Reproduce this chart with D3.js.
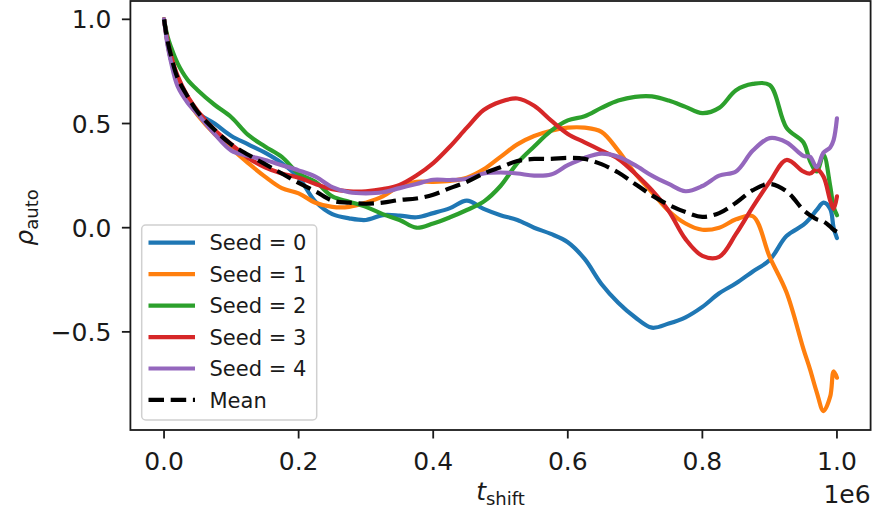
<!DOCTYPE html>
<html>
<head>
<meta charset="utf-8">
<script src="https://cdn.jsdelivr.net/npm/d3@7"></script>
<style>
  html, body { margin: 0; padding: 0; background: #fff; }
  svg { display: block; font-family: "DejaVu Sans", sans-serif; }
</style>
</head>
<body>
<svg id="chart" width="875" height="515"></svg>
<script>
// Time shift, in units of 1e6 steps
const shifts = [0, 0.005, 0.01, 0.02, 0.035, 0.05, 0.075, 0.1, 0.125, 0.15, 0.175, 0.2,
  0.225, 0.25, 0.275, 0.3, 0.325, 0.35, 0.375, 0.4, 0.425, 0.45, 0.475, 0.5, 0.525, 0.55,
  0.575, 0.6, 0.625, 0.65, 0.675, 0.7, 0.725, 0.75, 0.775, 0.8, 0.825, 0.85, 0.875, 0.9,
  0.925, 0.95, 0.96, 0.97, 0.98, 0.99, 0.995, 1.0];

// Autocorrelation per seed
const seed0 = [1.0, 0.89, 0.81, 0.71, 0.61, 0.55, 0.50, 0.44, 0.40, 0.36, 0.31, 0.24,
  0.125, 0.065, 0.045, 0.037, 0.06, 0.058, 0.05, 0.07, 0.094, 0.13, 0.09, 0.06, 0.037, 0.0,
  -0.03, -0.07, -0.15, -0.27, -0.36, -0.43, -0.48, -0.46, -0.43, -0.38, -0.315, -0.267,
  -0.21, -0.155, -0.04, 0.013, 0.045, 0.085, 0.12, 0.09, 0.0, -0.05];
const seed1 = [1.0, 0.89, 0.81, 0.71, 0.61, 0.54, 0.45, 0.38, 0.31, 0.245, 0.19, 0.165,
  0.12, 0.10, 0.10, 0.12, 0.15, 0.20, 0.22, 0.22, 0.225, 0.24, 0.28, 0.34, 0.40, 0.44,
  0.465, 0.48, 0.48, 0.46, 0.37, 0.26, 0.17, 0.08, 0.02, -0.01, 0.0, 0.04, 0.055, -0.14,
  -0.31, -0.58, -0.68, -0.79, -0.88, -0.81, -0.69, -0.72];
const seed2 = [1.0, 0.92, 0.87, 0.79, 0.71, 0.66, 0.59, 0.53, 0.445, 0.39, 0.34, 0.26,
  0.22, 0.15, 0.125, 0.10, 0.065, 0.037, 0.0, 0.02, 0.05, 0.085, 0.125, 0.20, 0.31, 0.39,
  0.465, 0.515, 0.535, 0.575, 0.61, 0.628, 0.63, 0.61, 0.58, 0.55, 0.575, 0.66, 0.69, 0.685,
  0.48, 0.41, 0.32, 0.27, 0.35, 0.2, 0.1, 0.06];
const seed3 = [1.0, 0.90, 0.83, 0.73, 0.63, 0.56, 0.47, 0.40, 0.335, 0.29, 0.26, 0.24,
  0.21, 0.185, 0.175, 0.175, 0.185, 0.205, 0.25, 0.31, 0.39, 0.48, 0.565, 0.605, 0.62,
  0.585, 0.515, 0.45, 0.41, 0.37, 0.33, 0.26, 0.18, 0.08, -0.055, -0.135, -0.14, -0.03,
  0.1, 0.22, 0.325, 0.27, 0.26, 0.28, 0.245, 0.13, 0.09, 0.15];
const seed4 = [1.0, 0.88, 0.80, 0.68, 0.60, 0.545, 0.45, 0.37, 0.345, 0.325, 0.30, 0.275,
  0.245, 0.195, 0.17, 0.165, 0.17, 0.19, 0.21, 0.23, 0.229, 0.235, 0.26, 0.265, 0.26, 0.25,
  0.255, 0.30, 0.335, 0.355, 0.34, 0.30, 0.25, 0.21, 0.175, 0.2, 0.25, 0.27, 0.37, 0.43,
  0.41, 0.345, 0.34, 0.29, 0.36, 0.385, 0.42, 0.525];
const meanSeries = [1.0, 0.90, 0.83, 0.72, 0.63, 0.555, 0.47, 0.40, 0.35, 0.305, 0.26, 0.215,
  0.175, 0.13, 0.12, 0.115, 0.12, 0.133, 0.14, 0.158, 0.19, 0.22, 0.26, 0.29, 0.32, 0.33,
  0.33, 0.335, 0.33, 0.305, 0.265, 0.21, 0.155, 0.11, 0.075, 0.052, 0.07, 0.12, 0.18, 0.21,
  0.175, 0.085, 0.06, 0.04, 0.03, 0.005, -0.01, -0.02];

const seriesNames = ["Seed = 0", "Seed = 1", "Seed = 2", "Seed = 3", "Seed = 4", "Mean"];
const seriesColors = ["#1f77b4", "#ff7f0e", "#2ca02c", "#d62728", "#9467bd", "#000000"];

const xTicks = [0, 0.2, 0.4, 0.6, 0.8, 1.0];
const xTickLabels = ["0.0", "0.2", "0.4", "0.6", "0.8", "1.0"];
const yTicks = [-0.5, 0, 0.5, 1.0];
const yTickLabels = ["\u22120.5", "0.0", "0.5", "1.0"];
const xOffsetLabel = "1e6";

const allSeries = [seed0, seed1, seed2, seed3, seed4, meanSeries];

// Plot area
const plotLeft = 130.4, plotRight = 870.6, plotTop = 1, plotBottom = 430;
const x = d3.scaleLinear().domain([-0.05, 1.05]).range([plotLeft, plotRight]);
const y = d3.scaleLinear().domain([-0.971, 1.088]).range([plotBottom, plotTop]);

const svg = d3.select("#chart");
const ink = "#1a1a1a";
const tickFont = 25;
const lineWidth = 4.2;
const dashPattern = "15.5,6.7";

svg.append("defs").append("clipPath").attr("id", "plot-clip")
  .append("rect").attr("x", plotLeft).attr("y", plotTop)
  .attr("width", plotRight - plotLeft).attr("height", plotBottom - plotTop);

// Series lines
const line = d3.line()
  .x((d, i) => x(shifts[i]))
  .y(d => y(d))
  .curve(d3.curveCatmullRom.alpha(0.5));

const plot = svg.append("g").attr("clip-path", "url(#plot-clip)");
allSeries.forEach((vals, k) => {
  plot.append("path")
    .attr("d", line(vals))
    .attr("fill", "none")
    .attr("stroke", seriesColors[k])
    .attr("stroke-width", lineWidth)
    .attr("stroke-linejoin", "round")
    .attr("stroke-linecap", k === 5 ? "butt" : "round")
    .attr("stroke-dasharray", k === 5 ? dashPattern : null);
});

// Frame
svg.append("rect")
  .attr("x", plotLeft).attr("y", plotTop)
  .attr("width", plotRight - plotLeft).attr("height", plotBottom - plotTop)
  .attr("fill", "none").attr("stroke", ink).attr("stroke-width", 1.8);

// X axis ticks
const xAxis = svg.append("g");
xTicks.forEach((t, i) => {
  xAxis.append("line")
    .attr("x1", x(t)).attr("x2", x(t))
    .attr("y1", plotBottom).attr("y2", plotBottom + 8.5)
    .attr("stroke", ink).attr("stroke-width", 1.8);
  xAxis.append("text")
    .attr("x", x(t)).attr("y", plotBottom + 40)
    .attr("text-anchor", "middle")
    .attr("font-size", tickFont).attr("fill", ink)
    .text(xTickLabels[i]);
});
xAxis.append("text")
  .attr("x", plotRight).attr("y", 503)
  .attr("text-anchor", "end")
  .attr("font-size", tickFont).attr("fill", ink)
  .text(xOffsetLabel);

// Y axis ticks
const yAxis = svg.append("g");
yTicks.forEach((v, i) => {
  yAxis.append("line")
    .attr("x1", plotLeft - 8.5).attr("x2", plotLeft)
    .attr("y1", y(v)).attr("y2", y(v))
    .attr("stroke", ink).attr("stroke-width", 1.8);
  yAxis.append("text")
    .attr("x", plotLeft - 19).attr("y", y(v) + tickFont * 0.36)
    .attr("text-anchor", "end")
    .attr("font-size", tickFont).attr("fill", ink)
    .text(yTickLabels[i]);
});

// Axis titles
const xTitle = svg.append("text")
  .attr("x", (plotLeft + plotRight) / 2).attr("y", 500)
  .attr("text-anchor", "middle")
  .attr("font-size", tickFont).attr("fill", ink);
xTitle.append("tspan").attr("font-style", "italic").text("t");
xTitle.append("tspan").attr("font-size", 18).attr("dy", 5).text("shift");

const yTitle = svg.append("text")
  .attr("transform", `translate(33, ${(plotTop + plotBottom) / 2 + 2}) rotate(-90)`)
  .attr("text-anchor", "middle")
  .attr("font-size", tickFont).attr("fill", ink);
yTitle.append("tspan").attr("font-style", "italic").text("\u03c1");
yTitle.append("tspan").attr("font-size", 18).attr("dy", 5).text("auto");

// Legend
const legend = svg.append("g");
legend.append("rect")
  .attr("x", 141.7).attr("y", 225)
  .attr("width", 175).attr("height", 195)
  .attr("rx", 4).attr("ry", 4)
  .attr("fill", "#ffffff").attr("fill-opacity", 0.8)
  .attr("stroke", "#d0d0d0").attr("stroke-width", 1.5);
const rowY0 = 242.7, rowStep = 31.45;
seriesNames.forEach((name, k) => {
  const ry = rowY0 + k * rowStep;
  legend.append("line")
    .attr("x1", 148.5).attr("x2", 195)
    .attr("y1", ry).attr("y2", ry)
    .attr("stroke", seriesColors[k])
    .attr("stroke-width", lineWidth)
    .attr("stroke-dasharray", k === 5 ? dashPattern : null);
  legend.append("text")
    .attr("x", 209.5).attr("y", ry + 21 * 0.36)
    .attr("font-size", 21).attr("fill", ink)
    .text(name);
});
</script>
</body>
</html>
